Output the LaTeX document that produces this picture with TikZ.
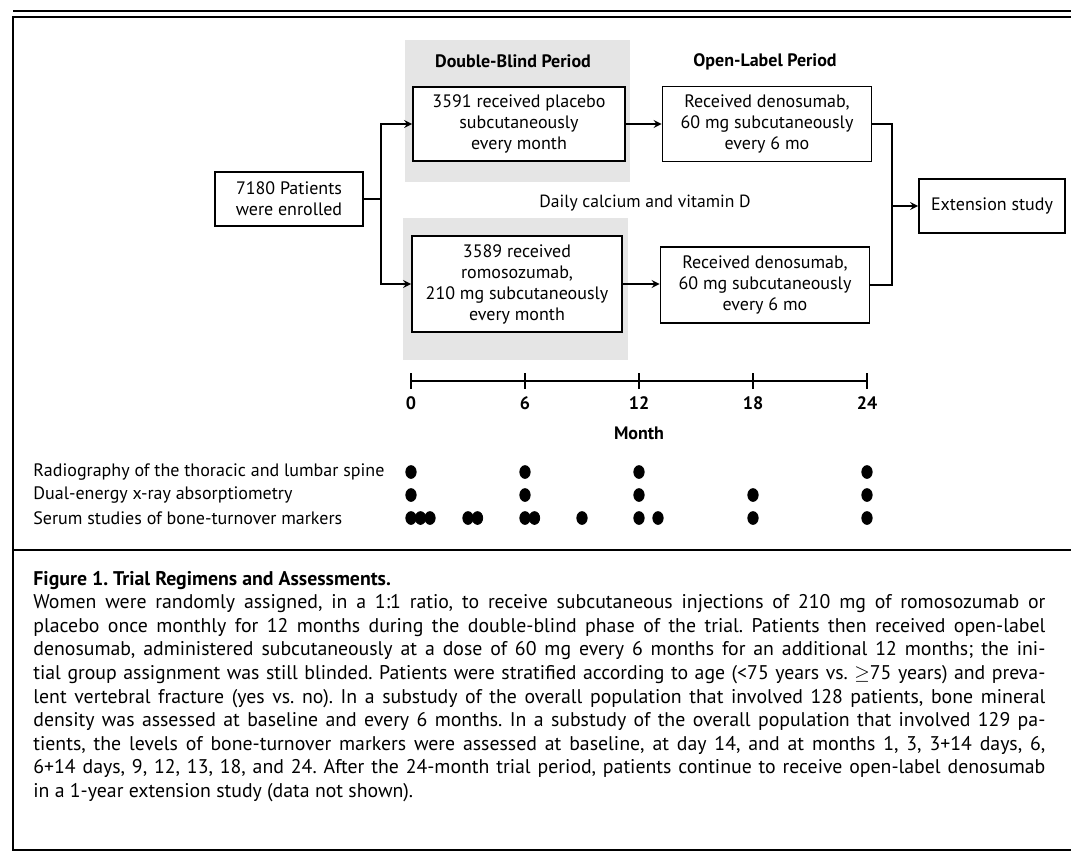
\documentclass[tikz,border=0pt]{standalone}
\usepackage{fontspec}
\setmainfont{PT Sans}
\tikzset{
  box/.style={draw, fill=white, line width=0.8pt, align=center, inner sep=0pt,
    font=\fontsize{9}{10.5}\selectfont},
  link/.style={line width=0.8pt},
  arr/.style={line width=0.8pt, -stealth},
  head/.style={font=\bfseries\fontsize{9}{10}\selectfont},
  rowlab/.style={anchor=west, inner sep=0pt, font=\fontsize{9}{10}\selectfont},
}
\begin{document}
\frenchspacing
\begin{tikzpicture}[x=0.5pt, y=-0.5pt]
\useasboundingbox (0,0) rectangle (1071,852);
% frame
\draw[line width=1pt] (13,11) -- (1071,11);
\draw[line width=1pt] (1071,17) -- (13,17) -- (13,850) -- (1071,850);
\draw[line width=1pt] (13,550) -- (1071,550);
% double-blind period shading
\fill[black!10] (405,40) rectangle (630,182);
\fill[black!10] (403,218) rectangle (628,360);
\node[head] (dbhead) at (513,61) {Double-Blind Period};
\node[head] (olhead) at (765,62) {Open-Label Period};
\node[box, minimum width=74pt, minimum height=27pt] (enrolled) at (289,199) {7180 Patients\\were enrolled};
\node[box, minimum width=106pt, minimum height=37pt] (placebo) at (519,124) {3591 received placebo\\subcutaneously\\every month};
\node[box, minimum width=105pt, minimum height=48pt] (romo) at (517,284) {3589 received\\romosozumab,\\210 mg subcutaneously\\every month};
\node[box, minimum width=104.5pt, minimum height=37.5pt] (opentop) at (767,124) {Received denosumab,\\60 mg subcutaneously\\every 6 mo};
\node[box, minimum width=104.5pt, minimum height=38pt] (openbot) at (765,285) {Received denosumab,\\60 mg subcutaneously\\every 6 mo};
\node[box, minimum width=73pt, minimum height=27pt] (ext) at (992,206) {Extension study};
\node[font=\fontsize{8.8}{10}\selectfont] (calcium) at (645,203) {Daily calcium and vitamin D};
\coordinate (split) at (381,199);
\coordinate (merge) at (892,206);
\draw[link] (enrolled.east) -- (split);
\draw[arr] (split) |- (placebo.west);
\draw[arr] (split) |- (romo.west);
\draw[arr] (placebo.east) -- (placebo.east -| opentop.west);
\draw[arr] (romo.east) -- (romo.east -| openbot.west);
\draw[link] (opentop.east) -| (merge);
\draw[link] (openbot.east) -| (merge);
\draw[arr] (merge) -- (ext.west);
% time axis
\draw[line width=1pt] (411,381) -- (867,381);
\foreach \m in {0,6,...,24}
  \draw[line width=1pt] ({411+19*\m},373) -- ({411+19*\m},389) node[below, head] (tick\m) {\m};
\node[head] (month) at (639,433) {Month};
% assessments
\node[rowlab] (xray) at (33,472) {Radiography of the thoracic and lumbar spine};
\node[rowlab] (dxa) at (33,495) {Dual-energy x-ray absorptiometry};
\node[rowlab] (serum) at (33,518) {Serum studies of bone-turnover markers};
\foreach \m in {0,6,12,24} \filldraw ({411+19*\m},472) ellipse (2.6pt and 3.2pt);
\foreach \m in {0,6,12,18,24} \filldraw ({411+19*\m},495) ellipse (2.6pt and 3.2pt);
\foreach \m in {0,0.5,1,3,3.5,6,6.5,9,12,13,18,24} \filldraw ({411+19*\m},518) ellipse (2.6pt and 3.2pt);
% caption
\node[anchor=base west, text width=506pt, align=justify, inner sep=0pt,
  font=\fontsize{9.9}{11.8}\selectfont] (caption) at (33,585) {%
\textbf{Figure 1. Trial Regimens and Assessments.}\\
Women were randomly assigned, in a 1:1 ratio, to receive subcutaneous injections of 210 mg of romosozumab or\linebreak
placebo once monthly for 12 months during the double-blind phase of the trial. Patients then received open-label\linebreak
denosumab, administered subcutaneously at a dose of 60 mg every 6 months for an additional 12 months; the ini-\linebreak
tial group assignment was still blinded. Patients were stratified according to age (<75 years vs. $\geq$75 years) and preva-\linebreak
lent vertebral fracture (yes vs. no). In a substudy of the overall population that involved 128 patients, bone mineral\linebreak
density was assessed at baseline and every 6 months. In a substudy of the overall population that involved 129 pa-\linebreak
tients, the levels of bone-turnover markers were assessed at baseline, at day 14, and at months 1, 3, 3+14 days, 6,\linebreak
6+14 days, 9, 12, 13, 18, and 24. After the 24-month trial period, patients continue to receive open-label denosumab\linebreak
in a 1-year extension study (data not shown).};
\end{tikzpicture}
\end{document}
